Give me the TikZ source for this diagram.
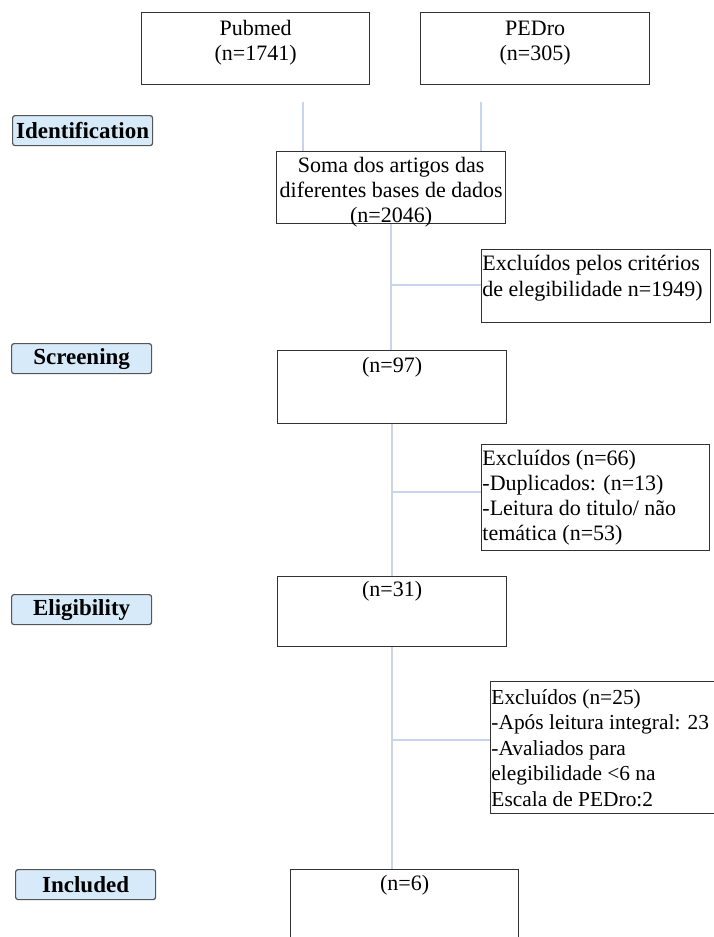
\documentclass[tikz,border=0pt]{standalone}
\usepackage{fontspec}
\setmainfont{Liberation Serif}
\definecolor{boxgray}{RGB}{50,50,50}
\definecolor{lineblue}{RGB}{200,211,238}
\definecolor{labblue}{RGB}{214,234,250}
\definecolor{labgray}{RGB}{85,85,85}
\newcommand\tbc[4]{\parbox[t][#1][t]{#2}{\centering\vspace*{#3}#4}}
\newcommand\tbl[4]{\parbox[t][#1][t]{#2}{\raggedright\vspace*{#3}#4}}
\begin{document}
\begin{tikzpicture}[x=1pt,y=-1pt,
  box/.style={draw=boxgray, line width=1.3pt, inner sep=0pt, anchor=north west,
    font=\fontsize{22}{25}\selectfont},
  exbox/.style={box, inner xsep=0.8pt},
  stage/.style={draw=labgray, line width=1.2pt, fill=labblue, rounded corners=2.5pt,
    inner sep=0pt, anchor=north west, minimum width=140pt, minimum height=30pt,
    font=\fontsize{23}{25}\selectfont\bfseries},
  conn/.style={draw=lineblue, line width=2pt}]
\useasboundingbox (0,0) rectangle (713,937);
\fill[white] (0,0) rectangle (713,937);

% top sources
\node[box] (pubmed) at (141,12) {\tbc{72pt}{228pt}{8pt}{Pubmed\\(n=1741)}};
\node[box] (pedro) at (420,12) {\tbc{72pt}{229pt}{8pt}{PEDro\\(n=305)}};

% stage labels
\node[stage] (ident) at (12,115) {Identification};
\node[stage] (screen) at (11,343) {Screening};
\node[stage] (elig) at (11,594) {Eligibility};
\node[stage] (incl) at (15,869) {Included};

% main boxes
\node[box] (soma) at (276,151) {\tbc{72pt}{229pt}{6pt}{Soma dos artigos das\\diferentes bases de dados\\(n=2046)}};
\node[box] (n97) at (277,350) {\tbc{73pt}{229pt}{7pt}{(n=97)}};
\node[box] (n31) at (277,576) {\tbc{70pt}{229pt}{5pt}{(n=31)}};
\node[box] (n6) at (290,869) {\tbc{90pt}{228pt}{6pt}{(n=6)}};

% exclusion boxes
\node[exbox, font=\fontsize{22}{26}\selectfont] (ex1) at (481,249) {\tbl{73pt}{227pt}{6pt}{Excluídos pelos critérios\\de elegibilidade n=1949)}};
\node[exbox] (ex2) at (481,444) {\tbl{106pt}{226pt}{6pt}{Excluídos (n=66)\\-Duplicados: (n=13)\\-Leitura do titulo/ não\\temática (n=53)}};
\node[exbox, font=\fontsize{21.4}{25.6}\selectfont] (ex3) at (490,681) {\tbl{132pt}{240pt}{7.5pt}{Excluídos (n=25)\\-Após leitura integral: 23\\-Avaliados para\\elegibilidade <6 na\\Escala de PEDro:2}};

% connectors
\coordinate (c1) at (303,102);
\coordinate (c2) at (481,102);
\draw[conn] (c1) -- (c1 |- soma.north);
\draw[conn] (c2) -- (c2 |- soma.north);
\draw[conn] (soma.south) -- (soma.south |- n97.north);
\draw[conn] (n97.south) -- (n97.south |- n31.north);
\draw[conn] (n31.south) -- (n31.south |- n6.north);
\draw[conn] ([yshift=1pt]ex1.west) -- ([yshift=1pt]ex1.west -| soma.south);
\draw[conn] ([yshift=6pt]ex2.west) -- ([yshift=6pt]ex2.west -| n97.south);
\draw[conn] ([yshift=8pt]ex3.west) -- ([yshift=8pt]ex3.west -| n31.south);
\end{tikzpicture}
\end{document}
